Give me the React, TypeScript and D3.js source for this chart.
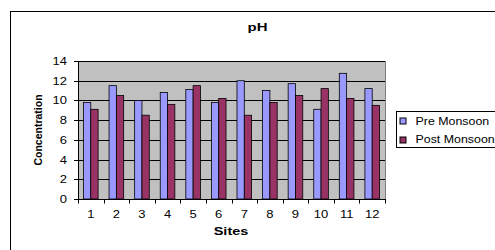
import React, { useEffect, useRef } from 'react';
import * as d3 from 'd3';

const sites = ['1', '2', '3', '4', '5', '6', '7', '8', '9', '10', '11', '12'];
const preMonsoon = [9.8, 11.5, 10.0, 10.8, 11.1, 9.8, 12.0, 11.0, 11.7, 9.1, 12.75, 11.2];
const postMonsoon = [9.1, 10.5, 8.5, 9.6, 11.5, 10.2, 8.5, 9.8, 10.5, 11.2, 10.2, 9.5];
const yTicks = [0, 2, 4, 6, 8, 10, 12, 14];
const seriesNames = ['Pre Monsoon', 'Post Monsoon'];
const seriesColors = ['#9999FF', '#993366'];

const App: React.FC = () => {
  const svgRef = useRef<SVGSVGElement>(null);

  useEffect(() => {
    const svg = d3.select(svgRef.current);
    svg.selectAll('*').remove();
    const font = 'Liberation Sans, Arial, sans-serif';

    // stretched text helper (the original picture is wider than its fonts)
    const label = (g: any, x: number, y: number, txt: string, opts: { sx?: number; anchor?: string; bold?: boolean; size?: number } = {}) =>
      g.append('text')
        .attr('transform', `translate(${x},${y}) scale(${opts.sx ?? 1.3},1)`)
        .attr('text-anchor', opts.anchor ?? 'start')
        .style('font-family', font)
        .style('font-size', `${opts.size ?? 10}px`)
        .style('font-weight', opts.bold ? 'bold' : 'normal')
        .attr('fill', '#000')
        .text(txt);

    // outer chart border (runs off right/bottom)
    svg.append('rect')
      .attr('x', 10.5).attr('y', 11.5)
      .attr('width', 500).attr('height', 260)
      .attr('fill', '#fff').attr('stroke', '#000');

    const left = 78, right = 385, top = 61, bottom = 199;

    const x = d3.scaleBand().domain(sites).range([left, right]).paddingInner(0).paddingOuter(0);
    const y = d3.scaleLinear().domain([0, 14]).range([bottom, top]);

    svg.append('rect')
      .attr('x', left).attr('y', top)
      .attr('width', right - left).attr('height', bottom - top)
      .attr('fill', '#C0C0C0');

    // gridlines
    svg.append('g').selectAll('line').data(yTicks.filter(t => t > 0)).enter().append('line')
      .attr('x1', left).attr('x2', right)
      .attr('y1', d => Math.round(y(d)) + 0.5).attr('y2', d => Math.round(y(d)) + 0.5)
      .attr('stroke', '#000');

    svg.append('line')
      .attr('x1', right + 0.5).attr('x2', right + 0.5).attr('y1', top).attr('y2', bottom)
      .attr('stroke', '#808080');

    const barW = x.bandwidth() / 3.5;
    const gap = (x.bandwidth() - 2 * barW) / 2;

    [preMonsoon, postMonsoon].forEach((vals, si) => {
      svg.append('g').selectAll('rect').data(vals).enter().append('rect')
        .attr('x', (d, i) => (x(sites[i]) as number) + gap + si * barW)
        .attr('y', d => y(d))
        .attr('width', barW)
        .attr('height', d => bottom - y(d))
        .attr('fill', seriesColors[si])
        .attr('stroke', '#000')
        .attr('stroke-width', 0.8);
    });

    // y axis
    const yAxis = svg.append('g');
    yAxis.append('line').attr('x1', left + 0.5).attr('x2', left + 0.5).attr('y1', top).attr('y2', bottom + 1)
      .attr('stroke', '#000');
    yTicks.forEach(t => {
      const yy = Math.round(y(t)) + 0.5;
      yAxis.append('line').attr('x1', left - 4).attr('x2', left).attr('y1', yy).attr('y2', yy).attr('stroke', '#000');
      label(yAxis, 67, yy + 3.5, String(t), { anchor: 'end' });
    });

    // x axis
    const xAxisG = svg.append('g').attr('transform', `translate(0,${bottom + 0.5})`);
    xAxisG.append('line').attr('x1', left).attr('x2', right + 1).attr('stroke', '#000');
    xAxisG.selectAll('.tk').data(d3.range(sites.length + 1)).enter().append('line')
      .attr('x1', i => Math.round(left + i * x.step()) + 0.5)
      .attr('x2', i => Math.round(left + i * x.step()) + 0.5)
      .attr('y1', 0).attr('y2', 4).attr('stroke', '#000');
    sites.forEach(s => label(svg, (x(s) as number) + x.bandwidth() / 2, 218, s, { anchor: 'middle' }));

    // titles
    label(svg, 257.5, 31, 'pH', { anchor: 'middle', bold: true, sx: 1.5 });
    label(svg, 231, 235, 'Sites', { anchor: 'middle', bold: true, sx: 1.45 });
    svg.append('text')
      .attr('transform', `translate(42,130) rotate(-90)`)
      .attr('text-anchor', 'middle')
      .style('font-family', font).style('font-size', '10.5px').style('font-weight', 'bold')
      .text('Concentration');

    // legend
    const legend = svg.append('g').attr('transform', 'translate(396.5,111.5)');
    legend.append('rect').attr('width', 110).attr('height', 36).attr('fill', '#fff').attr('stroke', '#000');
    seriesNames.forEach((name, i) => {
      legend.append('rect').attr('x', 3.5).attr('y', 6.5 + i * 19).attr('width', 6).attr('height', 6)
        .attr('fill', seriesColors[i]).attr('stroke', '#000');
      label(legend, 19, 13.5 + i * 17.5, name, { sx: 1.24 });
    });
  }, []);

  return (
    <svg ref={svgRef} width={495} height={250}
      style={{ position: 'absolute', left: 0, top: 0, display: 'block' }} />
  );
};

export default App;
